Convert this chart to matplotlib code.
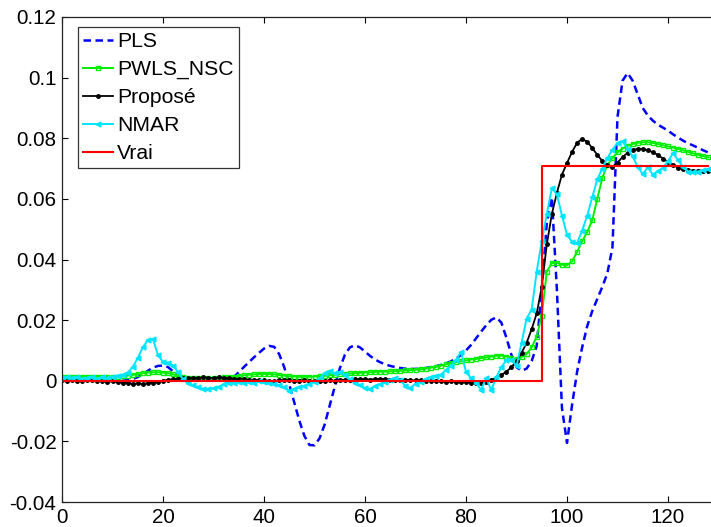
import numpy as np
import matplotlib
matplotlib.use("Agg")
from matplotlib import pyplot as plt

plt.rcParams['font.family'] = ['Liberation Sans', 'DejaVu Sans']

# sample index 0..128
x = np.arange(0, 129)

vrai = [0.0] * 95 + [0.071] * 34

pls = [0, 0, 0, 0, 0, 0, 0, 0, 0, 0, 0, 0, 0, 0.0002,
       0.0006, 0.0012, 0.0021, 0.0033, 0.0043, 0.0049, 0.0050, 0.0045, 0.0031, 0.0014,
       0.0004, 0.0001, 0, 0, 0, 0, 0, 0, 0.0001, 0.0004,
       0.0012, 0.0028, 0.0045, 0.0061, 0.0077, 0.0092, 0.0106, 0.0115, 0.0112, 0.0088,
       0.0045, -0.0012, -0.0072, -0.0132, -0.0182, -0.0212, -0.0213, -0.0190, -0.0145, -0.0082,
       -0.0020, 0.0040, 0.0085, 0.0110, 0.0117, 0.0110, 0.0096, 0.0082, 0.0070, 0.0061,
       0.0054, 0.0049, 0.0045, 0.0042, 0.0040, 0.0039, 0.0039, 0.0040, 0.0042, 0.0045,
       0.0048, 0.0052, 0.0057, 0.0064, 0.0073, 0.0085, 0.0100, 0.0118, 0.0140, 0.0162,
       0.0183, 0.0201, 0.0209, 0.0192, 0.0142, 0.0085, 0.0045, 0.0033, 0.0040, 0.0065,
       0.0115, 0.0300, 0.0520, 0.0605, 0.0300, -0.0090, -0.0205, -0.0080, 0.0030, 0.0110,
       0.0180, 0.0230, 0.0270, 0.0310, 0.0355, 0.0440, 0.0870, 0.0990, 0.1015, 0.0990,
       0.0945, 0.0900, 0.0875, 0.0858, 0.0845, 0.0835, 0.0825, 0.0813, 0.0802, 0.0792,
       0.0783, 0.0776, 0.0768, 0.0760, 0.0753]

pwls_nsc = [0.0013, 0.0014, 0.0013, 0.0012, 0.0013, 0.0014, 0.0013, 0.0012, 0.0013, 0.0013,
            0.0014, 0.0014, 0.0015, 0.0017, 0.0019, 0.0022, 0.0025, 0.0027, 0.0028, 0.0028,
            0.0027, 0.0025, 0.0021, 0.0016, 0.0012, 0.0010, 0.0009, 0.0008, 0.0008, 0.0008,
            0.0009, 0.0010, 0.0011, 0.0012, 0.0014, 0.0016, 0.0018, 0.0020, 0.0021, 0.0022,
            0.0022, 0.0022, 0.0021, 0.0019, 0.0017, 0.0015, 0.0014, 0.0013, 0.0013, 0.0013,
            0.0014, 0.0015, 0.0016, 0.0018, 0.0020, 0.0022, 0.0023, 0.0024, 0.0025, 0.0026,
            0.0027, 0.0028, 0.0029, 0.0030, 0.0030, 0.0031, 0.0032, 0.0033, 0.0034, 0.0035,
            0.0036, 0.0038, 0.0040, 0.0043, 0.0046, 0.0050, 0.0054, 0.0058, 0.0061, 0.0064,
            0.0067, 0.0070, 0.0072, 0.0075, 0.0077, 0.0080, 0.0082, 0.0083, 0.0080, 0.0074,
            0.0072, 0.0078, 0.0088, 0.0110, 0.0145, 0.0215, 0.0360, 0.0388, 0.0390, 0.0383,
            0.0381, 0.0394, 0.0425, 0.0460, 0.0490, 0.0530, 0.0600, 0.0670, 0.0712, 0.0735,
            0.0753, 0.0766, 0.0775, 0.0781, 0.0785, 0.0787, 0.0787, 0.0785, 0.0781, 0.0777,
            0.0773, 0.0769, 0.0765, 0.0760, 0.0755, 0.0750, 0.0745, 0.0741, 0.0737]

propose = [0.0002, -0.0001, 0.0003, 0.0000, -0.0002, 0.0001, 0.0002, -0.0001, 0.0000, -0.0003,
           -0.0002, -0.0004, -0.0006, -0.0008, -0.0010, -0.0009, -0.0011, -0.0008, -0.0006, -0.0003,
           0.0000, 0.0003, 0.0005, 0.0007, 0.0008, 0.0009, 0.0010, 0.0009, 0.0011, 0.0010,
           0.0009, 0.0011, 0.0010, 0.0008, 0.0007, 0.0006, 0.0005, 0.0004, 0.0003, 0.0002,
           0.0001, 0.0000, -0.0001, 0.0001, 0.0002, 0.0001, -0.0002, 0.0000, 0.0001, -0.0001,
           0.0000, -0.0002, -0.0001, 0.0001, 0.0000, 0.0002, 0.0003, 0.0004, 0.0005, 0.0006,
           0.0005, 0.0004, 0.0005, 0.0006, 0.0005, 0.0004, 0.0003, 0.0004, 0.0003, 0.0002,
           0.0001, 0.0002, 0.0000, -0.0001, 0.0000, -0.0002, -0.0003, -0.0002, -0.0004, -0.0005,
           -0.0004, -0.0006, -0.0007, -0.0006, -0.0003, 0.0002, 0.0010, 0.0019, 0.0030, 0.0045,
           0.0065, 0.0092, 0.0125, 0.0170, 0.0222, 0.0310, 0.0450, 0.0550, 0.0620, 0.0680,
           0.0718, 0.0755, 0.0785, 0.0798, 0.0788, 0.0768, 0.0745, 0.0725, 0.0711, 0.0706,
           0.0720, 0.0738, 0.0752, 0.0761, 0.0765, 0.0765, 0.0760, 0.0754, 0.0745, 0.0733,
           0.0722, 0.0712, 0.0703, 0.0698, 0.0695, 0.0693, 0.0693, 0.0693, 0.0693]

nmar = [0.0010, 0.0012, 0.0008, 0.0011, 0.0006, 0.0010, 0.0013, 0.0007, 0.0011, 0.0009,
        0.0014, 0.0017, 0.0020, 0.0027, 0.0045, 0.0075, 0.0110, 0.0135, 0.0138, 0.0085,
        0.0062, 0.0060, 0.0050, 0.0028, 0.0005, -0.0008, -0.0015, -0.0022, -0.0026, -0.0027,
        -0.0025, -0.0020, -0.0012, -0.0008, -0.0006, -0.0004, -0.0007, -0.0003, -0.0006, -0.0002,
        -0.0005, -0.0006, -0.0010, -0.0015, -0.0022, -0.0033, -0.0028, -0.0020, -0.0017, -0.0012,
        -0.0003, 0.0008, 0.0025, 0.0033, 0.0025, 0.0030, 0.0020, 0.0005, -0.0008, -0.0015,
        -0.0024, -0.0027, -0.0017, -0.0012, -0.0005, 0.0004, 0.0010, 0.0002, -0.0018, -0.0024,
        -0.0010, -0.0003, 0.0006, 0.0012, 0.0017, 0.0020, 0.0035, 0.0050, 0.0068, 0.0095,
        0.0030, 0.0008, -0.0008, -0.0030, 0.0010, -0.0032, 0.0012, 0.0045, 0.0068, 0.0070,
        0.0048, 0.0125, 0.0205, 0.0235, 0.0360, 0.0460, 0.0550, 0.0635, 0.0615, 0.0545,
        0.0482, 0.0458, 0.0455, 0.0495, 0.0545, 0.0605, 0.0665, 0.0700, 0.0735, 0.0762,
        0.0785, 0.0790, 0.0765, 0.0740, 0.0705, 0.0682, 0.0704, 0.0680, 0.0692, 0.0702,
        0.0725, 0.0750, 0.0728, 0.0705, 0.0690, 0.0688, 0.0690, 0.0695, 0.0697]

ytick_vals = [-0.04, -0.02, 0, 0.02, 0.04, 0.06, 0.08, 0.1, 0.12]
ytick_labels = ['-0.04', '-0.02', '0', '0.02', '0.04', '0.06', '0.08', '0.1', '0.12']
xtick_vals = [0, 20, 40, 60, 80, 100, 120]

fig = plt.figure(figsize=(7.11, 5.27), dpi=100)
# axes run past the right edge of the picture (cropped like the original)
ax = fig.add_axes([62 / 711, 25 / 527, 707 / 711, 485 / 527])

ax.plot(x, pls, color='#0000ff', linestyle='--', dashes=(3, 1.8), linewidth=1.8, label='PLS')
ax.plot(x, pwls_nsc, color='#00ee00', linewidth=1.4, marker='s', markersize=3.5,
        markerfacecolor='none', markeredgewidth=1.0, label='PWLS_NSC')
ax.plot(x, propose, color='k', linewidth=1.3, marker='.', markersize=5, label='Proposé')
ax.plot(x, nmar, color='#00e5ff', linewidth=1.4, marker='<', markersize=3.5, label='NMAR')
ax.plot(x, vrai, color='#ff0000', linewidth=1.5, drawstyle='steps-post', label='Vrai')

ax.set_xlim(0, 140)
ax.set_ylim(-0.04, 0.12)
ax.set_xticks(xtick_vals)
ax.set_yticks(ytick_vals)
ax.set_yticklabels(ytick_labels)
ax.tick_params(direction='in', length=4, width=0.8, top=True, right=True,
               labelsize=14.8, pad=4, colors='k')
for s in ax.spines.values():
    s.set_linewidth(0.9)
    s.set_color('#222222')

leg = ax.legend(loc='upper left', bbox_to_anchor=(16 / 707, 1 - 10 / 485), borderaxespad=0,
                fontsize=15.2, fancybox=False, framealpha=1, edgecolor='#333333',
                handlelength=1.4, handletextpad=0.2, labelspacing=0.42, borderpad=0.25)
leg.get_frame().set_linewidth(0.9)

fig.savefig('out.png', dpi=100)
